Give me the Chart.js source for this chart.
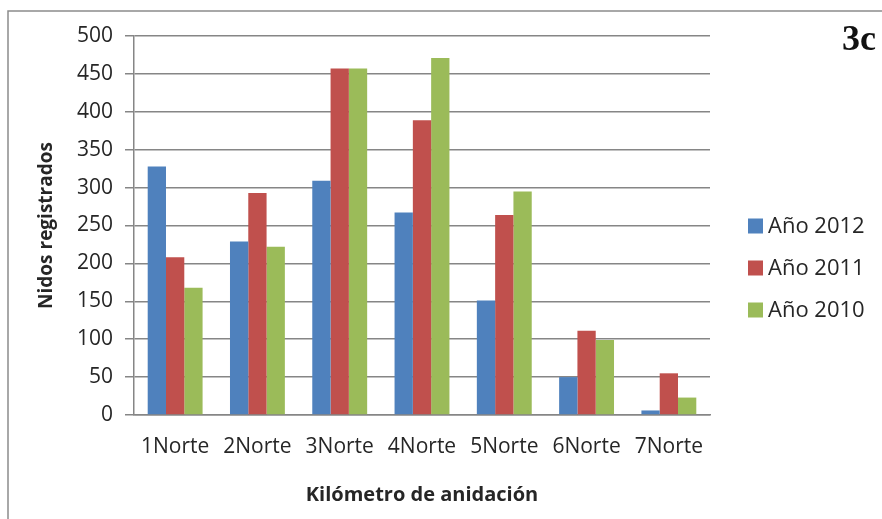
<!DOCTYPE html>
<html>
<head>
<meta charset="utf-8">
<script src="https://cdn.jsdelivr.net/npm/chart.js@4.4.0/dist/chart.umd.min.js"></script>
<style>
  html, body { margin: 0; padding: 0; background: #ffffff; }
  #wrap { position: relative; width: 882px; height: 519px; }
  canvas { display: block; }
</style>
</head>
<body>
<div id="wrap"><canvas id="c" width="882" height="519"></canvas></div>
<script>
const categories = ['1Norte', '2Norte', '3Norte', '4Norte', '5Norte', '6Norte', '7Norte'];
const seriesNames = ['Año 2012', 'Año 2011', 'Año 2010'];
const values2012 = [328, 229, 309, 267, 151, 50, 6];
const values2011 = [208, 293, 457, 389, 264, 111, 55];
const values2010 = [168, 222, 457, 471, 295, 99, 23];
const yTicks = [0, 50, 100, 150, 200, 250, 300, 350, 400, 450, 500];
const panelLabel = '3c';
const xTitle = 'Kilómetro de anidación';
const yTitle = 'Nidos registrados';

const colors = ['#4F81BD', '#C0504D', '#9BBB59'];
const gridColor = '#868686';
const textColor = '#262626';
const tickFont = { family: "'Open Sans', 'DejaVu Sans', sans-serif", size: 21 };
const xTitleFont = { family: "'Open Sans', 'DejaVu Sans', sans-serif", size: 20, weight: 'bold' };
const yTitleFont = { family: "'Open Sans', 'DejaVu Sans', sans-serif", size: 19, weight: 'bold' };

const framePlugin = {
  id: 'frame',
  beforeDraw(chart) {
    const ctx = chart.ctx;
    ctx.save();
    ctx.fillStyle = '#ffffff';
    ctx.fillRect(0, 0, chart.width, chart.height);
    ctx.strokeStyle = '#8c8c8c';
    ctx.lineWidth = 1.5;
    ctx.beginPath();
    ctx.moveTo(8, chart.height);
    ctx.lineTo(8, 11);
    ctx.lineTo(chart.width, 11);
    ctx.stroke();
    ctx.restore();
  }
};

const legendPlugin = {
  id: 'customLegend',
  afterDraw(chart) {
    const ctx = chart.ctx;
    ctx.save();
    ctx.font = "22px 'Open Sans', 'DejaVu Sans', sans-serif";
    ctx.textBaseline = 'middle';
    ctx.textAlign = 'left';
    chart.data.datasets.forEach((ds, i) => {
      const y = 226 + i * 42;
      ctx.fillStyle = ds.backgroundColor;
      ctx.fillRect(748, y - 7.5, 15, 15);
      ctx.fillStyle = textColor;
      ctx.fillText(ds.label, 768, y + 1);
    });
    ctx.font = "bold 36px 'Liberation Serif', 'DejaVu Serif', serif";
    ctx.fillStyle = '#111111';
    ctx.textBaseline = 'alphabetic';
    ctx.fillText(panelLabel, 842, 50);
    ctx.restore();
  }
};

new Chart(document.getElementById('c'), {
  type: 'bar',
  data: {
    labels: categories,
    datasets: [
      { label: seriesNames[0], data: values2012, backgroundColor: colors[0] },
      { label: seriesNames[1], data: values2011, backgroundColor: colors[1] },
      { label: seriesNames[2], data: values2010, backgroundColor: colors[2] }
    ]
  },
  options: {
    responsive: false,
    animation: false,
    devicePixelRatio: 1,
    layout: { padding: { top: 36, right: 172, left: 0, bottom: 0 } },
    datasets: { bar: { categoryPercentage: 0.667, barPercentage: 1.0 } },
    plugins: { legend: { display: false }, tooltip: { enabled: false }, title: { display: false } },
    scales: {
      x: {
        grid: { display: false, drawTicks: false },
        border: { display: true, color: gridColor, width: 1.5 },
        ticks: { font: tickFont, color: textColor, padding: 19, maxRotation: 0, autoSkip: false },
        title: { display: true, text: xTitle, font: xTitleFont, color: textColor, padding: { top: 0, bottom: 12 } },
        afterFit(scale) { scale.height = 104; }
      },
      y: {
        min: 0,
        max: 500,
        afterBuildTicks(scale) { scale.ticks = yTicks.map(v => ({ value: v })); },
        grid: { color: gridColor, lineWidth: 1.5, drawTicks: true, tickLength: 9, tickColor: gridColor },
        border: { display: true, color: gridColor, width: 1.5 },
        ticks: { font: tickFont, color: textColor, padding: 12 },
        title: { display: true, text: yTitle, font: yTitleFont, color: textColor, padding: { top: 35, bottom: 0 } },
        afterFit(scale) { scale.width = 134; }
      }
    }
  },
  plugins: [framePlugin, legendPlugin]
});
</script>
</body>
</html>
